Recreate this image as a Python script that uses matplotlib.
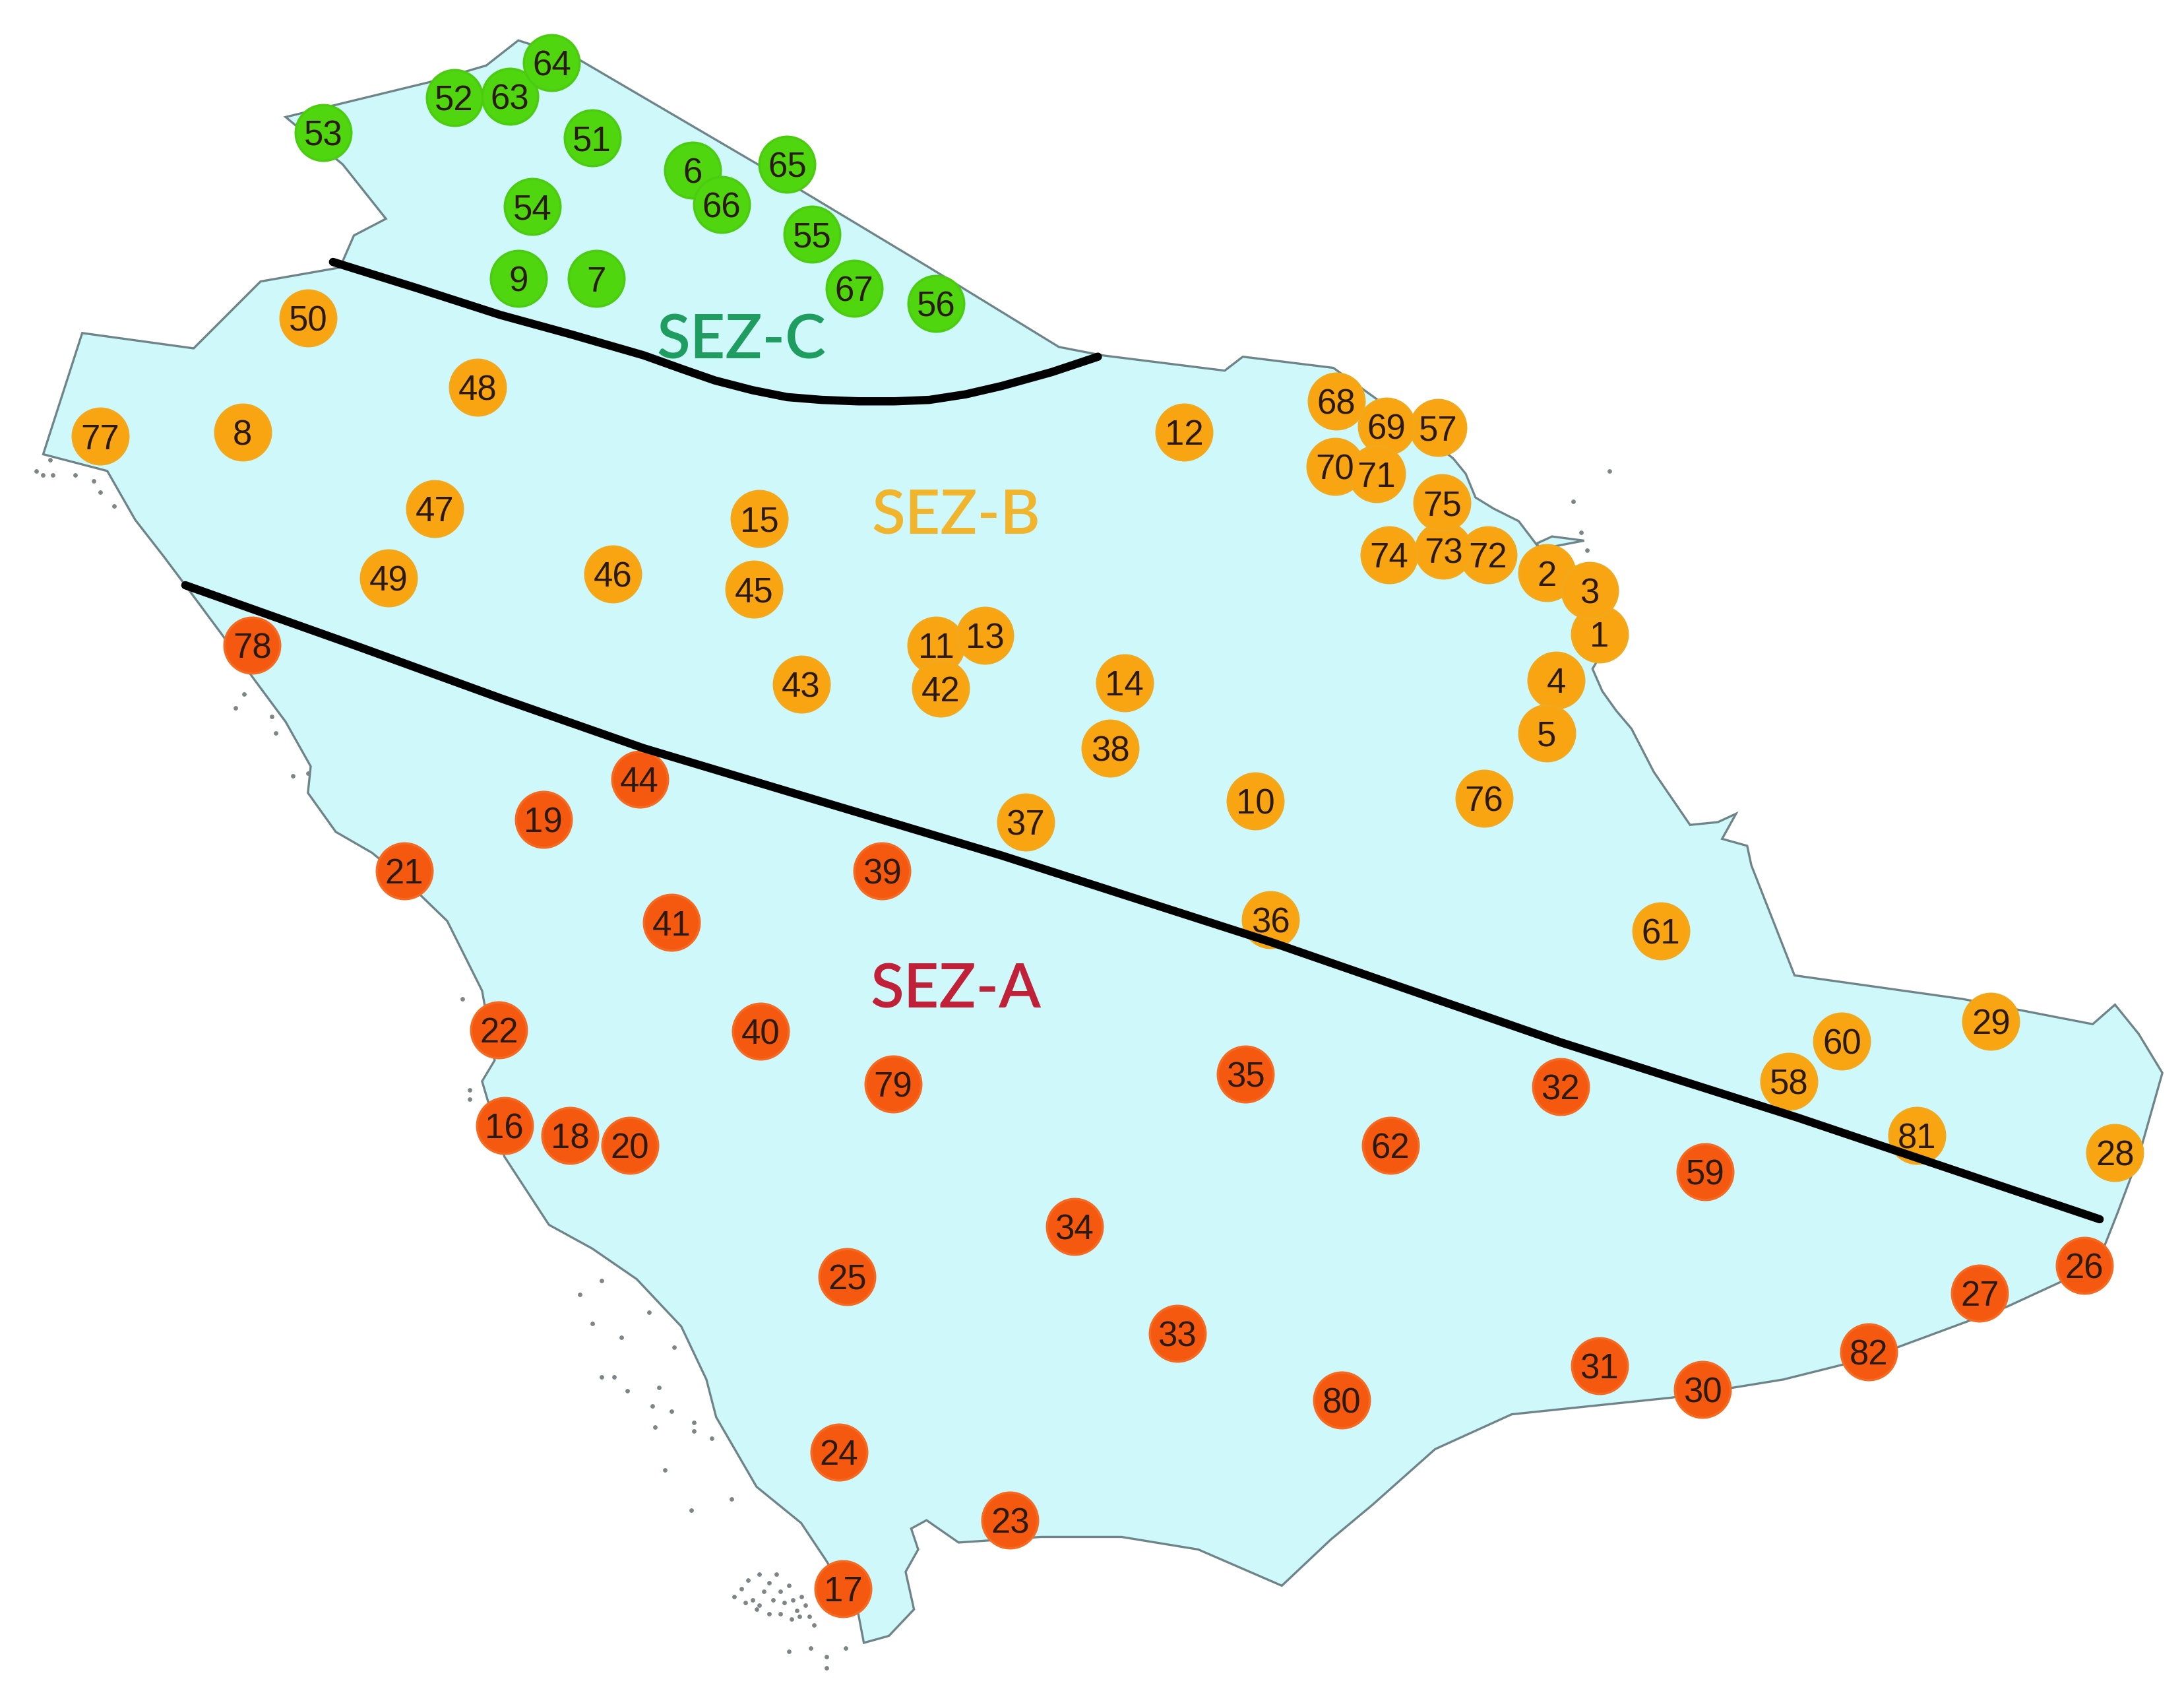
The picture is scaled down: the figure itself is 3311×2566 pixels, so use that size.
import matplotlib
matplotlib.use("Agg")
import matplotlib.pyplot as plt

## Map, in a 1568 x 1215 image frame

border_x = [205, 308, 349, 372, 416, 544, 667, 760, 791, 879, 892, 957, 1000, 1043, 1052, 1059, 1072, 1090, 1106, 1103, 1114, 1137,
            1116, 1125, 1145, 1155, 1143, 1150, 1160, 1171, 1187, 1213, 1233, 1246, 1236, 1254, 1257, 1288, 1409, 1502, 1518, 1535,
            1552, 1535, 1520, 1505, 1440, 1340, 1280, 1200, 1085, 1030, 985, 955, 920, 860, 805, 747, 688, 665,
            654, 659, 650, 656, 638, 620, 616, 593, 575, 543, 514, 507, 489, 457, 425, 394, 362, 346, 355, 346,
            321, 290, 267, 241, 221, 223, 205, 182, 159, 136, 118, 97, 77, 31, 59, 139, 187, 244, 254, 277, 246]
border_y = [84, 59, 47, 29, 43, 118, 192, 249, 255, 266, 256, 264, 295, 329, 340, 357, 365, 374, 395, 390, 385, 388,
            392, 400, 425, 460, 480, 496, 510, 523, 554, 592, 590, 584, 602, 607, 621, 700, 717, 735, 721, 742,
            770, 830, 870, 908, 938, 975, 990, 1003, 1015, 1040, 1080, 1105, 1138, 1112, 1103, 1103, 1107, 1091,
            1097, 1112, 1128, 1155, 1174, 1179, 1158, 1120, 1093, 1067, 1017, 990, 952, 918, 896, 879, 830, 776, 761, 711,
            661, 631, 612, 597, 569, 550, 518, 487, 455, 424, 400, 373, 338, 326, 239, 250, 202, 192, 169, 157, 118]

island_x = [26, 31, 38, 36, 54, 67, 72, 82, 169, 175, 195, 198, 210, 221, 332, 337, 337, 416, 432, 425, 446, 432, 441, 450,
            473, 468, 482, 470, 498, 498, 511, 477, 496, 525, 466, 484, 1155, 1129, 1135, 1139,
            527, 532, 537, 540, 545, 548, 552, 555, 557, 560, 563, 566, 569, 572, 575, 578, 581, 584,
            545, 552, 560, 568, 574, 535, 543, 582, 593, 607, 593, 566]
island_y = [338, 341, 341, 330, 341, 345, 353, 363, 508, 498, 514, 526, 557, 555, 717, 782, 789, 929, 919, 950, 960, 988, 988, 998,
            996, 1009, 1013, 1024, 1021, 1027, 1032, 1055, 1084, 1076, 942, 967, 338, 360, 382, 395,
            1146, 1140, 1134, 1148, 1130, 1142, 1136, 1148, 1130, 1142, 1150, 1138, 1148, 1156, 1146, 1152, 1160, 1166,
            1152, 1158, 1158, 1162, 1160, 1150, 1155, 1183, 1189, 1183, 1197, 1185]
island_size = 24

sez_a_x = [133, 257, 359, 462, 719, 912, 1120, 1290, 1507]
sez_a_y = [420, 464, 501, 537, 614, 676, 748, 802, 875]

sez_c_x = [239, 300, 359, 410, 462, 490, 513, 540, 565, 590, 616, 642, 667, 693, 719, 755, 788]
sez_c_y = [188, 207, 226, 240, 255, 265, 273, 280, 285, 287, 288, 288, 287, 283, 277, 267, 256]

green_ids = [6, 7, 9, 51, 52, 53, 54, 55, 56, 63, 64, 65, 66, 67]
green_x = [497, 428, 372, 425, 326, 232, 382, 583, 672, 366, 396, 565, 518, 613]
green_y = [122, 200, 200, 99, 70, 95, 148, 168, 218, 69, 45, 118, 147, 207]

orange_ids = [1, 2, 3, 4, 5, 8, 10, 11, 12, 13, 14, 15, 28, 29, 36, 37, 38, 42, 43, 45,
              46, 47, 48, 49, 50, 57, 58, 60, 61, 68, 69, 70, 71, 72, 73, 74, 75, 76, 77, 81]
orange_x = [1148, 1110, 1141, 1117, 1110, 174, 901, 672, 850, 707, 807, 545, 1518, 1429, 912, 736, 797, 675, 575, 541,
            440, 312, 343, 279, 221, 1032, 1284, 1322, 1192, 959, 995, 958, 988, 1068, 1036, 997, 1035, 1065, 72, 1376]
orange_y = [455, 411, 424, 488, 526, 310, 575, 463, 310, 456, 490, 372, 827, 733, 660, 590, 537, 494, 491, 423,
            412, 365, 278, 415, 228, 307, 776, 747, 668, 288, 306, 335, 340, 398, 395, 398, 361, 573, 313, 815]

red_ids = [16, 17, 18, 19, 20, 21, 22, 23, 24, 25, 26, 27, 30, 31, 32, 33, 34, 35, 39, 40, 41, 44, 59, 62, 78, 79, 80, 82]
red_x = [362, 605, 409, 390, 452, 290, 358, 725, 602, 608, 1496, 1421, 1222, 1148, 1120, 845, 771, 894, 633, 546, 482, 459, 1224, 998, 181, 641, 963, 1341]
red_y = [808, 1140, 815, 588, 822, 625, 739, 1091, 1042, 916, 908, 928, 997, 980, 780, 957, 880, 771, 625, 740, 662, 559, 841, 822, 463, 778, 1005, 970]

zone_labels = ["SEZ-C", "SEZ-B", "SEZ-A"]
zone_label_x = [532, 686, 686]
zone_label_y = [245, 371, 711]
zone_label_colors = ["#1f9d60", "#f0b52c", "#c02038"]

plt.rcParams["font.family"] = ["Liberation Sans", "DejaVu Sans"]

fig = plt.figure(figsize=(33.12, 25.66), dpi=100)
ax = fig.add_axes([0, 0, 1, 1])
ax.set_xlim(0, 1568)
ax.set_ylim(1215, 0)
ax.axis("off")

ax.fill(border_x, border_y, facecolor="#cff8fb", edgecolor="#6f8489", linewidth=2.4, zorder=1)
ax.scatter(island_x, island_y, s=island_size, color="#7d8588", linewidths=0, zorder=1)

# one layer per zone, numbered order decides who sits on top
for xs, ys, face, edge in [(green_x, green_y, "#4fd60f", "#4ccc10"),
                           (orange_x, orange_y, "#f9a512", "#f2a81a"),
                           (red_x, red_y, "#f4590f", "#f46a22")]:
    ax.scatter(xs, ys, s=3700, color=face, edgecolors=edge, linewidths=2.5, zorder=2)

ax.plot(sez_a_x, sez_a_y, color="black", linewidth=9, solid_capstyle="round", solid_joinstyle="round", zorder=3)
ax.plot(sez_c_x, sez_c_y, color="black", linewidth=9, solid_capstyle="round", solid_joinstyle="round", zorder=3)

for ids, xs, ys in [(green_ids, green_x, green_y), (orange_ids, orange_x, orange_y), (red_ids, red_x, red_y)]:
    for i, x, y in zip(ids, xs, ys):
        ax.text(x, y, str(i), fontsize=38, color="#2b1a12", ha="center", va="center_baseline", zorder=4)

for label, x, y, c in zip(zone_labels, zone_label_x, zone_label_y, zone_label_colors):
    ax.text(x, y, label, fontsize=67, color=c, family="Lato", fontweight="semibold", ha="center", va="center", zorder=5)

fig.savefig("out.png", dpi=100, facecolor="white")
